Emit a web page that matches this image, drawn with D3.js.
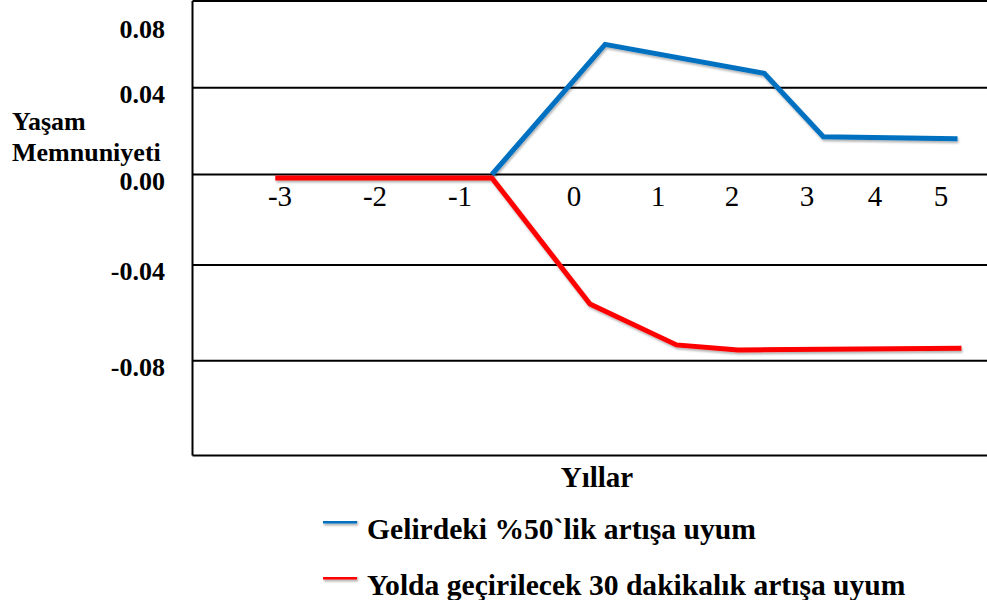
<!DOCTYPE html>
<html lang="tr">
<head>
  <meta charset="utf-8">
  <title>Yaşam Memnuniyeti</title>
  <script src="https://cdn.jsdelivr.net/npm/d3@7"></script>
  <style type="text/css">
    body {
      margin: 0;
      background: #fff;
    }
  </style>
</head>
<body>
  <svg id="chart" width="987" height="600"></svg>
  <script>
    // data
    var years = [-3, -2, -1, 0, 1, 2, 3, 4, 5];
    var yTicks = [0.08, 0.04, 0.00, -0.04, -0.08];
    var gridValues = [0.08, 0.04, 0.00, -0.04, -0.08, -0.12];

    var incomeX = [-0.72, 0.37, 2.43, 3.24, 5.25];
    var incomeY = [0.000, 0.060, 0.0466, 0.0174, 0.0165];

    var commuteX = [-3.05, -0.72, 0.19, 1.25, 2.08, 5.31];
    var commuteY = [-0.0015, -0.0015, -0.0563, -0.0734, -0.0755, -0.0748];

    var seriesNames = ["Gelirdeki %50`lik artışa uyum", "Yolda geçirilecek 30 dakikalık artışa uyum"];
    var seriesColors = ["#0070C0", "#FF0000"];

    var serif = "'Liberation Serif'";

    var svg = d3.select("#chart");

    var plotLeft = 192.5, plotRight = 990;

    // the original axis is drawn by hand, so the spacing is not even
    var x = d3.scaleLinear()
      .domain(years)
      .range([280, 375, 460, 574, 658, 732, 807, 875, 941]);

    var y = d3.scaleLinear()
      .domain([-0.12, -0.08, -0.04, 0, 0.04, 0.08])
      .range([455.5, 360.7, 265, 174.5, 87.7, 1]);

    // plain hyphen for negatives, like the original
    function fmt(d) {
      return d3.format(".2f")(d).replace("\u2212", "-");
    }

    // soft shadow under the lines
    var defs = svg.append("defs");
    defs.append("filter")
      .attr("id", "shadow")
      .attr("filterUnits", "userSpaceOnUse")
      .attr("x", 0).attr("y", 0)
      .attr("width", 987).attr("height", 600)
      .append("feDropShadow")
      .attr("dx", 1).attr("dy", 2)
      .attr("stdDeviation", 1.2)
      .attr("flood-color", "#000")
      .attr("flood-opacity", 0.3);

    // grid + frame
    svg.selectAll(".grid")
      .data(gridValues)
      .enter().append("line")
      .attr("class", "grid")
      .attr("x1", plotLeft)
      .attr("x2", plotRight)
      .attr("y1", function (d) { return y(d); })
      .attr("y2", function (d) { return y(d); })
      .attr("stroke", "#000")
      .attr("stroke-width", 2);

    svg.append("line")
      .attr("x1", plotLeft)
      .attr("x2", plotLeft)
      .attr("y1", y(0.08))
      .attr("y2", y(-0.12))
      .attr("stroke", "#000")
      .attr("stroke-width", 2);

    // y tick labels
    svg.selectAll(".yTick")
      .data(yTicks)
      .enter().append("text")
      .attr("class", "yTick")
      .attr("x", 165)
      .attr("y", function (d) { return Math.max(y(d) + 15, 38); })
      .attr("text-anchor", "end")
      .style("font-family", serif)
      .style("font-weight", "bold")
      .style("font-size", "26px")
      .text(function (d) { return fmt(d); });

    // y title
    var yTitle = svg.append("text")
      .attr("class", "yTitle")
      .attr("x", 12)
      .attr("y", 130)
      .style("font-family", serif)
      .style("font-weight", "bold")
      .style("font-size", "26px");
    yTitle.append("tspan").attr("x", 12).text("Yaşam");
    yTitle.append("tspan").attr("x", 12).attr("dy", 31).text("Memnuniyeti");

    // x tick labels sit under the zero line
    svg.selectAll(".xTick")
      .data(years)
      .enter().append("text")
      .attr("class", "xTick")
      .attr("x", function (d) { return x(d); })
      .attr("y", 206)
      .attr("text-anchor", "middle")
      .style("font-family", serif)
      .style("font-size", "29px")
      .text(function (d) { return d; });

    svg.append("text")
      .attr("class", "xTitle")
      .attr("x", 597)
      .attr("y", 487)
      .attr("text-anchor", "middle")
      .style("font-family", serif)
      .style("font-weight", "bold")
      .style("font-size", "29px")
      .text("Yıllar");

    // lines
    var line = d3.line()
      .x(function (d) { return x(d[0]); })
      .y(function (d) { return y(d[1]); });

    var series = [d3.zip(incomeX, incomeY), d3.zip(commuteX, commuteY)];

    svg.selectAll(".series")
      .data(series)
      .enter().append("path")
      .attr("class", "series")
      .attr("d", line)
      .attr("fill", "none")
      .attr("stroke", function (d, i) { return seriesColors[i]; })
      .attr("stroke-width", 5)
      .attr("stroke-linejoin", "miter")
      .attr("filter", "url(#shadow)");

    // legend
    var legend = svg.selectAll(".legend")
      .data(seriesNames)
      .enter().append("g")
      .attr("class", "legend")
      .attr("transform", function (d, i) { return "translate(323," + (521 + i * 56) + ")"; });

    legend.append("rect")
      .attr("x", 0)
      .attr("y", -2.5)
      .attr("width", 34)
      .attr("height", 5)
      .attr("fill", function (d, i) { return seriesColors[i]; })
      .attr("filter", "url(#shadow)");

    legend.append("text")
      .attr("class", "legendText")
      .attr("x", 44)
      .attr("y", 18)
      .style("font-family", serif)
      .style("font-weight", "bold")
      .style("font-size", "29.6px")
      .text(function (d) { return d; });
  </script>
</body>
</html>
